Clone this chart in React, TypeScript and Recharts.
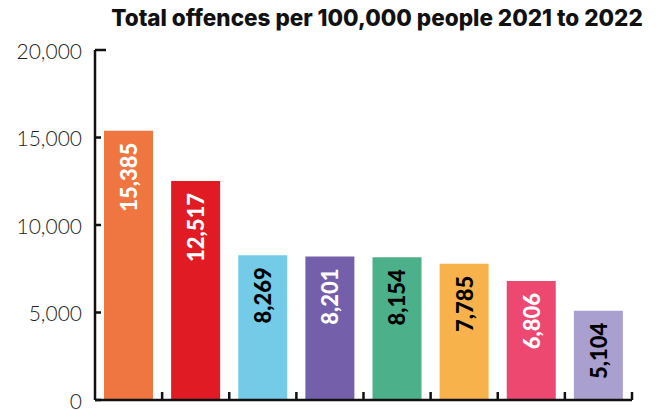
import { BarChart, Bar, XAxis, YAxis, Cell, LabelList } from 'recharts'

// ─── Data ──────────────────────────────────────────────────────────────────
const areas = ['A', 'B', 'C', 'D', 'E', 'F', 'G', 'H']
const offences = [15385, 12517, 8269, 8201, 8154, 7785, 6806, 5104]
const yTicks = [0, 5000, 10000, 15000, 20000]

const BAR_COLORS = ['#ef7640', '#e01b24', '#74cbe8', '#7460aa', '#4cb08a', '#f8b24c', '#ec4870', '#a9a0d0']
const LABEL_COLORS = ['#fff', '#fff', '#000', '#fff', '#000', '#000', '#fff', '#000']

const data = areas.map((area, i) => ({ area, value: offences[i] }))
const fmt = (v: number) => v.toLocaleString('en-US')

const FONT = 'Lato, "Open Sans", sans-serif'
const TITLE_FONT = 'Inter, Lato, sans-serif'

const YTick = ({ x, y, payload }: any) => {
  const axisX = x + 13
  const isTop = payload.value === 20000
  return (
    <g>
      <line x1={axisX} x2={axisX + (isTop ? 11 : 6)} y1={y} y2={y} stroke="#111" strokeWidth={2.5} />
      <text x={x} y={y} textAnchor="end" dominantBaseline="central" fill="#222" fontSize={21} fontWeight={300} fontFamily={FONT}>
        {fmt(payload.value)}
      </text>
    </g>
  )
}

// tick mark at the right edge of each category band, pointing up
const XTick = ({ x, y, width, visibleTicksCount }: any) => {
  const edge = x + width / visibleTicksCount / 2
  return <line x1={edge} x2={edge} y1={y} y2={y - 8} stroke="#111" strokeWidth={2.5} />
}

const BarValue = ({ x, y, width, value, index }: any) => {
  const cx = x + width / 2
  const ty = y + 12
  return (
    <text
      x={cx}
      y={ty}
      transform={`rotate(-90 ${cx} ${ty})`}
      textAnchor="end"
      dominantBaseline="central"
      fill={LABEL_COLORS[index]}
      fontSize={22}
      fontWeight={900}
      fontFamily={FONT}
    >
      {fmt(value)}
    </text>
  )
}

export default function App() {
  return (
    <div style={{ position: 'absolute', left: 0, top: 0, width: 658, height: 410, background: '#fff' }}>
      <div
        style={{
          position: 'absolute',
          top: 4,
          left: 92,
          width: 570,
          textAlign: 'center',
          fontFamily: TITLE_FONT,
          fontWeight: 800,
          fontSize: 22.5,
          letterSpacing: 0,
          color: '#111',
          whiteSpace: 'nowrap',
        }}
      >
        Total offences per 100,000 people 2021 to 2022
      </div>
      <BarChart width={658} height={410} data={data} margin={{ top: 50, right: 26, left: 0, bottom: 9 }}>
        <XAxis
          dataKey="area"
          height={1}
          interval={0}
          tickSize={0}
          tickMargin={0}
          tickLine={false}
          tick={<XTick />}
          axisLine={{ stroke: '#111', strokeWidth: 2.5 }}
        />
        <YAxis
          width={95}
          domain={[0, 20000]}
          ticks={yTicks}
          tickSize={0}
          tickMargin={13}
          tickLine={false}
          axisLine={{ stroke: '#111', strokeWidth: 2.5 }}
          tick={<YTick />}
        />
        <Bar dataKey="value" barSize={49} isAnimationActive={false}>
          {data.map((d, i) => (
            <Cell key={d.area} fill={BAR_COLORS[i]} />
          ))}
          <LabelList dataKey="value" content={<BarValue />} />
        </Bar>
      </BarChart>
    </div>
  )
}
